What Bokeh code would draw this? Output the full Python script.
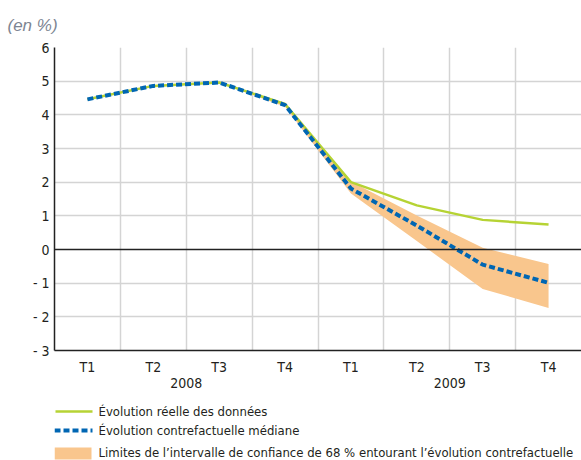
from bokeh.plotting import figure
from bokeh.models import Range1d, FixedTicker, Span, LinearAxis
from bokeh.layouts import column
from bokeh.embed import file_html
from bokeh.resources import INLINE
from bokeh.core.properties import value

quarters = ["T1", "T2", "T3", "T4", "T1", "T2", "T3", "T4"]
years = ["2008", "2009"]
actual = [4.46, 4.86, 4.96, 4.32, 2.00, 1.31, 0.88, 0.74]
median = [4.46, 4.86, 4.96, 4.29, 1.81, 0.71, -0.45, -0.99]
band_low = [4.45, 4.85, 4.95, 4.24, 1.66, 0.25, -1.17, -1.74]
band_high = [4.47, 4.87, 4.97, 4.34, 2.02, 1.01, 0.05, -0.43]
y_ticks = [-3, -2, -1, 0, 1, 2, 3, 4, 5, 6]
legend_labels = ["Évolution réelle des données",
                 "Évolution contrefactuelle médiane",
                 "Limites de l’intervalle de confiance de 68 % entourant l’évolution contrefactuelle"]

FONT = "DejaVu Sans Condensed"
TXT = "#231f20"
GREEN = "#b6d334"
BLUE = "#0066b3"
ORANGE = "#f9c68d"
GRID = "#d4d4d4"

xs = [i + 0.5 for i in range(len(quarters))]
year_pos = [2, 6]

p = figure(width=581, height=392, output_backend="svg", toolbar_location=None,
           x_range=Range1d(0, 8), y_range=Range1d(-3, 6),
           min_border_left=54, min_border_right=0, min_border_top=47, min_border_bottom=42)
p.outline_line_color = None
p.background_fill_color = "white"

p.varea(x=xs, y1=band_low, y2=band_high, fill_color=ORANGE, fill_alpha=1)
p.line(xs, actual, line_color=GREEN, line_width=2.5)
p.line(xs, median, line_color=BLUE, line_width=4, line_dash="6 3")

p.add_layout(Span(location=0, dimension="width", line_color="#222222", line_width=1.3))

p.xgrid.ticker = FixedTicker(ticks=list(range(1, 8)))
p.ygrid.ticker = FixedTicker(ticks=[t for t in y_ticks if t not in (-3, 0, 6)])
p.xgrid.grid_line_color = GRID
p.ygrid.grid_line_color = GRID
p.xgrid.grid_line_width = 1.5
p.ygrid.grid_line_width = 1.5

p.yaxis.ticker = FixedTicker(ticks=y_ticks)
p.yaxis.major_label_overrides = {t: (f"- {abs(t)}" if t < 0 else str(t)) for t in y_ticks}
p.xaxis.ticker = FixedTicker(ticks=xs)
p.xaxis.major_label_overrides = {x: q for x, q in zip(xs, quarters)}

year_axis = LinearAxis(ticker=FixedTicker(ticks=year_pos),
                       major_label_overrides={x: y for x, y in zip(year_pos, years)})
p.add_layout(year_axis, "below")

for ax in (p.xaxis[0], p.yaxis[0], year_axis):
    ax.axis_line_color = "#222222"
    ax.axis_line_width = 1.5
    ax.major_tick_line_color = None
    ax.minor_tick_line_color = None
    ax.major_tick_out = 0
    ax.major_tick_in = 0
    ax.minor_tick_out = 0
    ax.major_label_text_font = FONT
    ax.major_label_text_font_size = "14px"
    ax.major_label_text_color = TXT
year_axis.axis_line_color = None
p.yaxis.major_label_standoff = 5
p.xaxis[0].major_label_standoff = 8
year_axis.major_label_standoff = 0

p.title.text = "(en %)"
p.title.align = "left"
p.title.offset = -47
p.title.standoff = 26
p.title.text_font = "Liberation Sans"
p.title.text_font_style = "italic"
p.title.text_font_size = "17px"
p.title.text_color = "#7d8592"

# legend figure (its frame is aligned with the main frame: x 54..581)
lg = figure(width=581, height=68, output_backend="svg", toolbar_location=None,
            x_axis_type=None, y_axis_type=None,
            x_range=Range1d(54, 581), y_range=Range1d(68, 0),
            min_border=0, min_border_left=54, min_border_right=0, min_border_top=0, min_border_bottom=0)
lg.grid.visible = False
lg.outline_line_color = None
lg.line([55, 92], [19, 19], line_color=GREEN, line_width=2.5)
lg.line([54, 92], [38, 38], line_color=BLUE, line_width=4, line_dash="6 3")
lg.quad(left=54, right=91, top=55, bottom=67, fill_color=ORANGE, line_color=None)
lg.text(x=[98, 98, 98], y=[19, 38, 60], text=legend_labels, text_font=value(FONT),
        text_font_size="13px", text_color=TXT, text_baseline="middle", text_align="left")

layout = column(p, lg, spacing=0)
open("out.html", "w").write(file_html(layout, INLINE))
